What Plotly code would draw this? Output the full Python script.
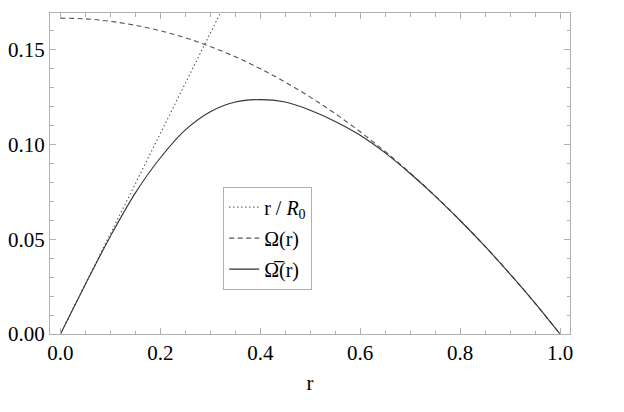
import plotly.graph_objects as go

# r values (shared)
r_vals = [0.0, 0.05, 0.10, 0.15, 0.20, 0.25, 0.30, 0.35, 0.40, 0.45, 0.50,
          0.55, 0.60, 0.65, 0.70, 0.75, 0.80, 0.85, 0.90, 0.95, 1.00]

# dotted line r/R0 (straight line through origin)
line_r = [0.0, 0.34]
line_y = [0.0, 0.18]

# dashed Omega(r)
omega = [0.1667, 0.1663, 0.1650, 0.1629, 0.1600, 0.1563, 0.1517, 0.1463, 0.1400,
         0.1329, 0.1250, 0.1163, 0.1067, 0.0963, 0.0850, 0.0729, 0.0600, 0.0463,
         0.0317, 0.0163, 0.0]

# solid Omega-bar(r)
omega_bar = [0.0, 0.0263, 0.0516, 0.0745, 0.0930, 0.1077, 0.1173, 0.1224, 0.1237,
             0.1224, 0.1181, 0.1122, 0.1049, 0.0956, 0.0847, 0.0728, 0.0599, 0.0462,
             0.0316, 0.0163, 0.0]

x_ticks = [0.0, 0.2, 0.4, 0.6, 0.8, 1.0]
y_ticks = [0.00, 0.05, 0.10, 0.15]

FONT = "Liberation Serif"
FRAME = "#b0b0b0"

fig = go.Figure()
fig.add_trace(go.Scatter(x=line_r, y=line_y, mode="lines", legendgroup="a",
                         line=dict(color="#555555", width=1.2, dash="1.3px,2.7px"),
                         name="r / <i>R</i><sub>0</sub>"))
fig.add_trace(go.Scatter(x=r_vals, y=omega, mode="lines", line_shape="spline",
                         legendgroup="b",
                         line=dict(color="#555555", width=1.1, dash="5px,3.5px"),
                         name="Ω(r)"))
fig.add_trace(go.Scatter(x=r_vals, y=omega_bar, mode="lines", line_shape="spline",
                         legendgroup="c",
                         line=dict(color="#333333", width=1.1),
                         name="Ω\u0305(r)"))

axis_common = dict(showgrid=False, zeroline=False, showline=True, linecolor=FRAME,
                   linewidth=1, mirror="ticks", ticks="inside", ticklen=6,
                   tickcolor=FRAME, tickwidth=1, automargin=False,
                   tickfont=dict(family=FONT, size=21, color="black"))

# the page body adds an 8px offset, so the figure is 8px smaller each way
fig.update_layout(
    width=616, height=404,
    margin=dict(l=42, r=54, t=5, b=78),
    paper_bgcolor="white", plot_bgcolor="white",
    font=dict(family=FONT, size=20, color="black"),
    xaxis=dict(range=[-0.021, 1.02], tickvals=x_ticks, tickformat=".1f",
               minor=dict(dtick=0.05, ticks="inside", ticklen=3.5, tickcolor=FRAME),
               title=dict(text="r", font=dict(family=FONT, size=21), standoff=11),
               **axis_common),
    yaxis=dict(range=[0, 0.1694], tickvals=y_ticks, tickformat=".2f",
               minor=dict(dtick=0.01, ticks="inside", ticklen=3.5, tickcolor=FRAME),
               **axis_common),
    legend=dict(x=0.333, y=0.459, xanchor="left", yanchor="top",
                bgcolor="white", bordercolor=FRAME, borderwidth=1,
                tracegroupgap=2,
                font=dict(family=FONT, size=20), itemwidth=30),
    showlegend=True,
)

fig.write_html("out.html")
